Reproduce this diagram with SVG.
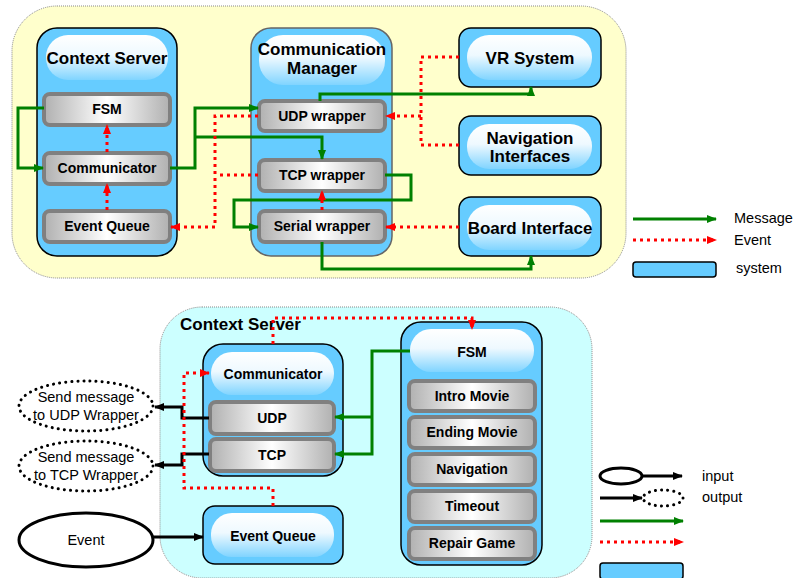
<svg xmlns="http://www.w3.org/2000/svg" width="795" height="578" viewBox="0 0 795 578">
<defs>
<linearGradient id="gray" x1="0" y1="0" x2="1" y2="0">
<stop offset="0" stop-color="#B0B0B0"/>
<stop offset="0.5" stop-color="#FFFFFF"/>
<stop offset="1" stop-color="#B0B0B0"/>
</linearGradient>
<linearGradient id="pill" x1="0" y1="0" x2="0" y2="1">
<stop offset="0" stop-color="#FFFFFF"/>
<stop offset="0.45" stop-color="#EEF9FF"/>
<stop offset="1" stop-color="#80D4FF"/>
</linearGradient>
<marker id="ag" markerWidth="10" markerHeight="10" refX="9" refY="5" orient="auto" markerUnits="userSpaceOnUse"><path d="M0,1 L10,5 L0,9 Z" fill="#008000"/></marker>
<marker id="ar" markerWidth="10" markerHeight="10" refX="9" refY="5" orient="auto" markerUnits="userSpaceOnUse"><path d="M0,1 L10,5 L0,9 Z" fill="#FF0000"/></marker>
<marker id="ab" markerWidth="10" markerHeight="10" refX="9" refY="5" orient="auto" markerUnits="userSpaceOnUse"><path d="M0,1 L10,5 L0,9 Z" fill="#000000"/></marker>
</defs>
<style>
text{font-family:"Liberation Sans",Arial,sans-serif;fill:#000;text-anchor:middle}
.big{font-size:17px;font-weight:bold}
.sm{font-size:14px;font-weight:bold}
.reg{font-size:14.5px}
.sys{fill:#66CCFF;stroke:#000;stroke-width:1.5}
.cm{fill:#66CCFF;stroke:#666;stroke-width:1.5}
.pill{fill:url(#pill)}
.gbox{fill:url(#gray);stroke:#808080;stroke-width:4}
.g{fill:none;stroke:#008000;stroke-width:3}
.r{fill:none;stroke:#FF0000;stroke-width:3;stroke-dasharray:3 4}
.k{fill:none;stroke:#000;stroke-width:3}
.dot{fill:#fff;stroke:#000;stroke-width:3;stroke-dasharray:0.1 6;stroke-linecap:round}
</style>

<!-- backgrounds -->
<rect x="12" y="6" width="614" height="272" rx="45" fill="#FFFFCC" stroke="#888" stroke-width="1" stroke-dasharray="1 1"/>
<rect x="160" y="307" width="432" height="271" rx="42" fill="#CCFFFF" stroke="#888" stroke-width="1" stroke-dasharray="1 1"/>
<text x="180" y="330" class="big" style="text-anchor:start">Context Server</text>

<!-- top nodes -->
<g id="cs-top">
<rect x="37" y="28" width="140" height="228" rx="20" class="sys"/>
<rect x="46" y="35" width="122" height="45" rx="22" class="pill"/>
<text x="107" y="64" class="big">Context Server</text>
</g>
<g id="fsm-top"><rect x="44" y="94" width="126" height="31" rx="6" class="gbox"/><text x="107" y="114" class="sm">FSM</text></g>
<g id="comm-top"><rect x="44" y="153" width="126" height="31" rx="6" class="gbox"/><text x="107" y="173" class="sm">Communicator</text></g>
<g id="eq-top"><rect x="44" y="211" width="126" height="31" rx="6" class="gbox"/><text x="107" y="231" class="sm">Event Queue</text></g>

<g id="cm">
<rect x="251" y="28" width="141" height="228" rx="20" class="cm"/>
<rect x="259" y="35" width="126" height="50" rx="24" class="pill"/>
<text x="322" y="55" class="big">Communication</text>
<text x="322" y="74" class="big">Manager</text>
</g>
<g id="udpw"><rect x="259" y="101" width="126" height="30" rx="6" class="gbox"/><text x="322" y="121" class="sm">UDP wrapper</text></g>
<g id="tcpw"><rect x="259" y="160" width="126" height="31" rx="6" class="gbox"/><text x="322" y="180" class="sm">TCP wrapper</text></g>
<g id="serw"><rect x="259" y="211" width="126" height="31" rx="6" class="gbox"/><text x="322" y="231" class="sm">Serial wrapper</text></g>

<g id="vr"><rect x="459" y="28" width="142" height="59" rx="12" class="sys"/><rect x="467" y="35" width="125" height="45" rx="22" class="pill"/><text x="530" y="64" class="big">VR System</text></g>
<g id="nav"><rect x="459" y="116" width="142" height="59" rx="12" class="sys"/><rect x="467" y="124" width="125" height="45" rx="22" class="pill"/><text x="530" y="144" class="big">Navigation</text><text x="530" y="162" class="big">Interfaces</text></g>
<g id="board"><rect x="459" y="197" width="142" height="59" rx="12" class="sys"/><rect x="467" y="205" width="125" height="45" rx="22" class="pill"/><text x="530" y="234" class="big">Board Interface</text></g>

<!-- bottom nodes -->
<g id="comm-bot">
<rect x="203" y="344" width="140" height="132" rx="20" class="sys"/>
<rect x="211" y="352" width="123" height="43" rx="21" class="pill"/>
<text x="273" y="379" class="sm">Communicator</text>
</g>
<g id="udp"><rect x="210" y="402" width="124" height="32" rx="6" class="gbox"/><text x="272" y="423" class="sm">UDP</text></g>
<g id="tcp"><rect x="210" y="439" width="124" height="32" rx="6" class="gbox"/><text x="272" y="460" class="sm">TCP</text></g>
<g id="eq-bot">
<rect x="203" y="506" width="140" height="58" rx="12" class="sys"/>
<rect x="211" y="513" width="123" height="44" rx="21" class="pill"/>
<text x="273" y="541" class="sm">Event Queue</text>
</g>
<g id="fsm-bot">
<rect x="401" y="322" width="141" height="243" rx="20" class="sys"/>
<rect x="410" y="329" width="124" height="43" rx="21" class="pill"/>
<text x="472" y="357" class="sm">FSM</text>
</g>
<g id="intro"><rect x="409" y="381" width="126" height="30" rx="6" class="gbox"/><text x="472" y="401" class="sm">Intro Movie</text></g>
<g id="ending"><rect x="409" y="417" width="126" height="31" rx="6" class="gbox"/><text x="472" y="437" class="sm">Ending Movie</text></g>
<g id="navst"><rect x="409" y="454" width="126" height="31" rx="6" class="gbox"/><text x="472" y="474" class="sm">Navigation</text></g>
<g id="timeout"><rect x="409" y="491" width="126" height="31" rx="6" class="gbox"/><text x="472" y="511" class="sm">Timeout</text></g>
<g id="repair"><rect x="409" y="528" width="126" height="31" rx="6" class="gbox"/><text x="472" y="548" class="sm">Repair Game</text></g>

<g id="send-udp"><ellipse cx="86" cy="406" rx="67" ry="25" class="dot"/><text x="86" y="402" class="reg">Send message</text><text x="86" y="420" class="reg">to UDP Wrapper</text></g>
<g id="send-tcp"><ellipse cx="86" cy="466" rx="67" ry="25" class="dot"/><text x="86" y="462" class="reg">Send message</text><text x="86" y="480" class="reg">to TCP Wrapper</text></g>
<g id="event"><ellipse cx="86" cy="540" rx="67" ry="27" fill="#fff" stroke="#000" stroke-width="3"/><text x="86" y="545" class="reg">Event</text></g>

<!-- connectors -->
<g id="connectors">
<path class="g" d="M44,108 H18 V168 H43" marker-end="url(#ag)"/>
<path class="g" d="M170,168 H195 V108 H258" marker-end="url(#ag)"/>
<path class="g" d="M195,137 H322 V159" marker-end="url(#ag)"/>
<path class="g" d="M320,101 V94 H531 V87" marker-end="url(#ag)"/>
<path class="g" d="M385,175 H411 V200 H234 V227 H258" marker-end="url(#ag)"/>
<path class="g" d="M322,242 V269 H531 V256" marker-end="url(#ag)"/>
<path class="r" d="M107,152 V125" marker-end="url(#ar)"/>
<path class="r" d="M107,210 V184" marker-end="url(#ar)"/>
<path class="r" d="M258,116 H215 V227 H171" marker-end="url(#ar)"/>
<path class="r" d="M258,175 H217"/>
<path class="r" d="M459,57 H421 V145 H459"/>
<path class="r" d="M421,116 H386" marker-end="url(#ar)"/>
<path class="r" d="M459,227 H386" marker-end="url(#ar)"/>
<path class="r" d="M322,210 V191" marker-end="url(#ar)"/>

<path class="k" d="M209,418 H182 V407 H155" marker-end="url(#ab)"/>
<path class="k" d="M209,454 H182 V465 H155" marker-end="url(#ab)"/>
<path class="k" d="M153,537 H203" marker-end="url(#ab)"/>
<path class="g" d="M410,351 H372 V454 H335" marker-end="url(#ag)"/>
<path class="g" d="M372,417 H335" marker-end="url(#ag)"/>
<path class="r" d="M273,344 V318 H472 V329" marker-end="url(#ar)"/>
<path class="r" d="M273,506 V488 H184 V373 H209" marker-end="url(#ar)"/>
</g>

<!-- legends -->
<g id="legend-top">
<path class="g" d="M633,219 H716" marker-end="url(#ag)"/>
<text x="734" y="223" class="reg" style="text-anchor:start">Message</text>
<path class="r" d="M633,240 H716" marker-end="url(#ar)"/>
<text x="734" y="245" class="reg" style="text-anchor:start">Event</text>
<rect x="633" y="262" width="83" height="15" rx="3" fill="#66CCFF" stroke="#000" stroke-width="1.5"/>
<text x="736" y="273" class="reg" style="text-anchor:start">system</text>
</g>
<g id="legend-bot">
<ellipse cx="621" cy="476" rx="21" ry="8" fill="none" stroke="#000" stroke-width="3"/>
<path class="k" d="M642,476 H682" marker-end="url(#ab)"/>
<text x="702" y="481" class="reg" style="text-anchor:start">input</text>
<path class="k" d="M600,498 H642" marker-end="url(#ab)"/>
<ellipse cx="663" cy="498" rx="20" ry="8" class="dot" style="fill:none"/>
<text x="702" y="502" class="reg" style="text-anchor:start">output</text>
<path class="g" d="M600,521 H683" marker-end="url(#ag)"/>
<path class="r" d="M600,542 H683" marker-end="url(#ar)"/>
<rect x="600" y="563" width="83" height="16" rx="3" fill="#66CCFF" stroke="#000" stroke-width="1.5"/>
</g>
</svg>
